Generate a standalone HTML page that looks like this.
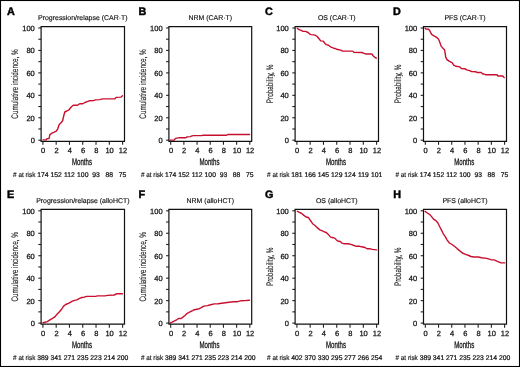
<!DOCTYPE html>
<html><head><meta charset="utf-8"><title>Figure</title>
<style>
html,body{margin:0;padding:0;background:#fff;}
body{width:520px;height:367px;overflow:hidden;}
svg{display:block;will-change:transform;}
text{font-family:"Liberation Sans",sans-serif;fill:#111;text-rendering:geometricPrecision;}
.lt{font-size:10.8px;font-weight:bold;fill:#000;stroke:#000;stroke-width:0.45px;}
.tt{font-size:6.95px;stroke:#111;stroke-width:0.15px;}
.tl{font-size:7.5px;stroke:#111;stroke-width:0.25px;}
.rk{font-size:6.8px;stroke:#111;stroke-width:0.22px;}
.rl{font-size:7.0px;stroke:#111;stroke-width:0.15px;}
.ax{font-size:9.6px;stroke:#111;stroke-width:0.3px;}
.yt{font-size:9.5px;stroke:#111;stroke-width:0.08px;}
.tk{stroke:#222;stroke-width:1.1;}
.bx{fill:none;stroke:#111;stroke-width:1.2;}
.cv{fill:none;stroke:#c8102e;stroke-width:1.4;stroke-linejoin:round;stroke-linecap:round;}
</style></head>
<body>
<svg width="520" height="367" viewBox="0 0 520 367">
<rect x="0.5" y="0.5" width="519" height="366" fill="#fff" stroke="#000" stroke-width="1.1"/>
<text x="7" y="14.6" class="lt">A</text>
<text x="82.8" y="19.9" class="tt" text-anchor="middle">Progression/relapse (CAR·T)</text>
<line x1="38.3" y1="140.2" x2="41.1" y2="140.2" class="tk"/>
<text x="34.8" y="143.1" class="tl" text-anchor="end">0</text>
<line x1="38.3" y1="128.98" x2="41.1" y2="128.98" class="tk"/>
<line x1="38.3" y1="117.76" x2="41.1" y2="117.76" class="tk"/>
<text x="34.8" y="120.66" class="tl" text-anchor="end">20</text>
<line x1="38.3" y1="106.54" x2="41.1" y2="106.54" class="tk"/>
<line x1="38.3" y1="95.32" x2="41.1" y2="95.32" class="tk"/>
<text x="34.8" y="98.22" class="tl" text-anchor="end">40</text>
<line x1="38.3" y1="84.1" x2="41.1" y2="84.1" class="tk"/>
<line x1="38.3" y1="72.88" x2="41.1" y2="72.88" class="tk"/>
<text x="34.8" y="75.78" class="tl" text-anchor="end">60</text>
<line x1="38.3" y1="61.66" x2="41.1" y2="61.66" class="tk"/>
<line x1="38.3" y1="50.44" x2="41.1" y2="50.44" class="tk"/>
<text x="34.8" y="53.34" class="tl" text-anchor="end">80</text>
<line x1="38.3" y1="39.22" x2="41.1" y2="39.22" class="tk"/>
<line x1="38.3" y1="28" x2="41.1" y2="28" class="tk"/>
<text x="34.8" y="30.9" class="tl" text-anchor="end">100</text>
<line x1="42.9" y1="141.3" x2="42.9" y2="144.8" class="tk"/>
<text x="43.2" y="152.8" class="tl" text-anchor="middle">0</text>
<text x="42.9" y="176.6" class="rk" text-anchor="middle">174</text>
<line x1="56.18" y1="141.3" x2="56.18" y2="144.8" class="tk"/>
<text x="56.48" y="152.8" class="tl" text-anchor="middle">2</text>
<text x="56.18" y="176.6" class="rk" text-anchor="middle">152</text>
<line x1="69.47" y1="141.3" x2="69.47" y2="144.8" class="tk"/>
<text x="69.77" y="152.8" class="tl" text-anchor="middle">4</text>
<text x="69.47" y="176.6" class="rk" text-anchor="middle">112</text>
<line x1="82.75" y1="141.3" x2="82.75" y2="144.8" class="tk"/>
<text x="83.05" y="152.8" class="tl" text-anchor="middle">6</text>
<text x="82.75" y="176.6" class="rk" text-anchor="middle">100</text>
<line x1="96.03" y1="141.3" x2="96.03" y2="144.8" class="tk"/>
<text x="96.33" y="152.8" class="tl" text-anchor="middle">8</text>
<text x="96.03" y="176.6" class="rk" text-anchor="middle">93</text>
<line x1="109.32" y1="141.3" x2="109.32" y2="144.8" class="tk"/>
<text x="109.62" y="152.8" class="tl" text-anchor="middle">10</text>
<text x="109.32" y="176.6" class="rk" text-anchor="middle">88</text>
<line x1="122.6" y1="141.3" x2="122.6" y2="144.8" class="tk"/>
<text x="122.9" y="152.8" class="tl" text-anchor="middle">12</text>
<text x="122.6" y="176.6" class="rk" text-anchor="middle">75</text>
<text x="35.4" y="176.6" class="rl" text-anchor="end" textLength="22.3" lengthAdjust="spacingAndGlyphs"># at risk</text>
<text x="82" y="165.3" class="ax" text-anchor="middle" textLength="20" lengthAdjust="spacingAndGlyphs">Months</text>
<text transform="translate(18.35,83.95) rotate(-90)" class="yt" text-anchor="middle" textLength="69.4" lengthAdjust="spacingAndGlyphs">Cumulative incidence, %</text>
<polyline class="cv" points="43.1,139.9 46.4,139.9 46.9,138.6 49,138.6 49.9,134.6 52,133.2 54.2,132.2 56.3,131.1 57.7,129 59.1,124.7 61.2,122.6 62.7,120.5 63.8,115.5 64.8,112 66.9,111 69,109.8 71.2,107 73.3,105.3 77.5,105.3 79.7,103.7 82.8,103.7 85,102.5 87.1,101.6 89.2,100.8 93.5,100.6 95.6,99.9 99.8,99.6 102.7,98.9 114.7,98.9 116.1,97.4 121.1,97.1 122.5,95.7"/>
<path class="bx" d="M41.1,26.6H124.5V141.3H41.1Z"/>
<text x="138.5" y="14.6" class="lt">B</text>
<text x="210.3" y="19.9" class="tt" text-anchor="middle">NRM (CAR·T)</text>
<line x1="166.1" y1="140.2" x2="168.9" y2="140.2" class="tk"/>
<text x="162.6" y="143.1" class="tl" text-anchor="end">0</text>
<line x1="166.1" y1="128.98" x2="168.9" y2="128.98" class="tk"/>
<line x1="166.1" y1="117.76" x2="168.9" y2="117.76" class="tk"/>
<text x="162.6" y="120.66" class="tl" text-anchor="end">20</text>
<line x1="166.1" y1="106.54" x2="168.9" y2="106.54" class="tk"/>
<line x1="166.1" y1="95.32" x2="168.9" y2="95.32" class="tk"/>
<text x="162.6" y="98.22" class="tl" text-anchor="end">40</text>
<line x1="166.1" y1="84.1" x2="168.9" y2="84.1" class="tk"/>
<line x1="166.1" y1="72.88" x2="168.9" y2="72.88" class="tk"/>
<text x="162.6" y="75.78" class="tl" text-anchor="end">60</text>
<line x1="166.1" y1="61.66" x2="168.9" y2="61.66" class="tk"/>
<line x1="166.1" y1="50.44" x2="168.9" y2="50.44" class="tk"/>
<text x="162.6" y="53.34" class="tl" text-anchor="end">80</text>
<line x1="166.1" y1="39.22" x2="168.9" y2="39.22" class="tk"/>
<line x1="166.1" y1="28" x2="168.9" y2="28" class="tk"/>
<text x="162.6" y="30.9" class="tl" text-anchor="end">100</text>
<line x1="170.7" y1="141.3" x2="170.7" y2="144.8" class="tk"/>
<text x="171" y="152.8" class="tl" text-anchor="middle">0</text>
<text x="170.7" y="176.6" class="rk" text-anchor="middle">174</text>
<line x1="183.88" y1="141.3" x2="183.88" y2="144.8" class="tk"/>
<text x="184.18" y="152.8" class="tl" text-anchor="middle">2</text>
<text x="183.88" y="176.6" class="rk" text-anchor="middle">152</text>
<line x1="197.07" y1="141.3" x2="197.07" y2="144.8" class="tk"/>
<text x="197.37" y="152.8" class="tl" text-anchor="middle">4</text>
<text x="197.07" y="176.6" class="rk" text-anchor="middle">112</text>
<line x1="210.25" y1="141.3" x2="210.25" y2="144.8" class="tk"/>
<text x="210.55" y="152.8" class="tl" text-anchor="middle">6</text>
<text x="210.25" y="176.6" class="rk" text-anchor="middle">100</text>
<line x1="223.43" y1="141.3" x2="223.43" y2="144.8" class="tk"/>
<text x="223.73" y="152.8" class="tl" text-anchor="middle">8</text>
<text x="223.43" y="176.6" class="rk" text-anchor="middle">93</text>
<line x1="236.62" y1="141.3" x2="236.62" y2="144.8" class="tk"/>
<text x="236.92" y="152.8" class="tl" text-anchor="middle">10</text>
<text x="236.62" y="176.6" class="rk" text-anchor="middle">88</text>
<line x1="249.8" y1="141.3" x2="249.8" y2="144.8" class="tk"/>
<text x="250.1" y="152.8" class="tl" text-anchor="middle">12</text>
<text x="249.8" y="176.6" class="rk" text-anchor="middle">75</text>
<text x="163.2" y="176.6" class="rl" text-anchor="end" textLength="22.3" lengthAdjust="spacingAndGlyphs"># at risk</text>
<text x="209.5" y="165.3" class="ax" text-anchor="middle" textLength="20" lengthAdjust="spacingAndGlyphs">Months</text>
<text transform="translate(146.15,83.95) rotate(-90)" class="yt" text-anchor="middle" textLength="69.4" lengthAdjust="spacingAndGlyphs">Cumulative incidence, %</text>
<polyline class="cv" points="169.9,140.1 174.2,140.1 175.5,138.4 178.1,137.9 179.8,137.7 185.9,137.7 187.2,136.9 190.2,136.6 192,135.9 193.7,135.6 201.5,135.6 203.2,135.3 226.6,135.3 227.7,134.5 249.5,134.5"/>
<path class="bx" d="M168.9,26.6H251.7V141.3H168.9Z"/>
<text x="264.9" y="14.6" class="lt">C</text>
<text x="336.8" y="19.9" class="tt" text-anchor="middle">OS (CAR·T)</text>
<line x1="292.3" y1="140.2" x2="295.1" y2="140.2" class="tk"/>
<text x="288.8" y="143.1" class="tl" text-anchor="end">0</text>
<line x1="292.3" y1="128.98" x2="295.1" y2="128.98" class="tk"/>
<line x1="292.3" y1="117.76" x2="295.1" y2="117.76" class="tk"/>
<text x="288.8" y="120.66" class="tl" text-anchor="end">20</text>
<line x1="292.3" y1="106.54" x2="295.1" y2="106.54" class="tk"/>
<line x1="292.3" y1="95.32" x2="295.1" y2="95.32" class="tk"/>
<text x="288.8" y="98.22" class="tl" text-anchor="end">40</text>
<line x1="292.3" y1="84.1" x2="295.1" y2="84.1" class="tk"/>
<line x1="292.3" y1="72.88" x2="295.1" y2="72.88" class="tk"/>
<text x="288.8" y="75.78" class="tl" text-anchor="end">60</text>
<line x1="292.3" y1="61.66" x2="295.1" y2="61.66" class="tk"/>
<line x1="292.3" y1="50.44" x2="295.1" y2="50.44" class="tk"/>
<text x="288.8" y="53.34" class="tl" text-anchor="end">80</text>
<line x1="292.3" y1="39.22" x2="295.1" y2="39.22" class="tk"/>
<line x1="292.3" y1="28" x2="295.1" y2="28" class="tk"/>
<text x="288.8" y="30.9" class="tl" text-anchor="end">100</text>
<line x1="296.9" y1="141.3" x2="296.9" y2="144.8" class="tk"/>
<text x="297.2" y="152.8" class="tl" text-anchor="middle">0</text>
<text x="296.9" y="176.6" class="rk" text-anchor="middle">181</text>
<line x1="310.18" y1="141.3" x2="310.18" y2="144.8" class="tk"/>
<text x="310.48" y="152.8" class="tl" text-anchor="middle">2</text>
<text x="310.18" y="176.6" class="rk" text-anchor="middle">166</text>
<line x1="323.47" y1="141.3" x2="323.47" y2="144.8" class="tk"/>
<text x="323.77" y="152.8" class="tl" text-anchor="middle">4</text>
<text x="323.47" y="176.6" class="rk" text-anchor="middle">145</text>
<line x1="336.75" y1="141.3" x2="336.75" y2="144.8" class="tk"/>
<text x="337.05" y="152.8" class="tl" text-anchor="middle">6</text>
<text x="336.75" y="176.6" class="rk" text-anchor="middle">129</text>
<line x1="350.03" y1="141.3" x2="350.03" y2="144.8" class="tk"/>
<text x="350.33" y="152.8" class="tl" text-anchor="middle">8</text>
<text x="350.03" y="176.6" class="rk" text-anchor="middle">124</text>
<line x1="363.32" y1="141.3" x2="363.32" y2="144.8" class="tk"/>
<text x="363.62" y="152.8" class="tl" text-anchor="middle">10</text>
<text x="363.32" y="176.6" class="rk" text-anchor="middle">119</text>
<line x1="376.6" y1="141.3" x2="376.6" y2="144.8" class="tk"/>
<text x="376.9" y="152.8" class="tl" text-anchor="middle">12</text>
<text x="376.6" y="176.6" class="rk" text-anchor="middle">101</text>
<text x="289.4" y="176.6" class="rl" text-anchor="end" textLength="22.3" lengthAdjust="spacingAndGlyphs"># at risk</text>
<text x="336" y="165.3" class="ax" text-anchor="middle" textLength="20" lengthAdjust="spacingAndGlyphs">Months</text>
<text transform="translate(272.6,83.95) rotate(-90)" class="yt" text-anchor="middle" textLength="38.6" lengthAdjust="spacingAndGlyphs">Probability, %</text>
<polyline class="cv" points="297.3,28.2 298.6,29.4 300.4,30.1 301.7,30.7 303,31.4 305.5,31.4 308.1,32.5 309.9,34.2 311.2,34.6 315.1,35.1 317.2,36.5 319,38.7 320.7,40.9 323.3,41.1 325,43.5 326.3,44.6 328.5,45.2 331.1,47.2 333.7,48.2 335.4,48.5 336.7,49.3 338.9,49.7 340.6,50.2 342.8,51.1 352.7,51.1 353.9,52.4 362.2,52.5 364,53.4 366.1,54 371.8,54 373.1,55.7 374.8,57.3 376.3,58.2"/>
<path class="bx" d="M295.1,26.6H378.5V141.3H295.1Z"/>
<text x="393" y="14.6" class="lt">D</text>
<text x="465" y="19.9" class="tt" text-anchor="middle">PFS (CAR·T)</text>
<line x1="420.7" y1="140.2" x2="423.5" y2="140.2" class="tk"/>
<text x="417.2" y="143.1" class="tl" text-anchor="end">0</text>
<line x1="420.7" y1="128.98" x2="423.5" y2="128.98" class="tk"/>
<line x1="420.7" y1="117.76" x2="423.5" y2="117.76" class="tk"/>
<text x="417.2" y="120.66" class="tl" text-anchor="end">20</text>
<line x1="420.7" y1="106.54" x2="423.5" y2="106.54" class="tk"/>
<line x1="420.7" y1="95.32" x2="423.5" y2="95.32" class="tk"/>
<text x="417.2" y="98.22" class="tl" text-anchor="end">40</text>
<line x1="420.7" y1="84.1" x2="423.5" y2="84.1" class="tk"/>
<line x1="420.7" y1="72.88" x2="423.5" y2="72.88" class="tk"/>
<text x="417.2" y="75.78" class="tl" text-anchor="end">60</text>
<line x1="420.7" y1="61.66" x2="423.5" y2="61.66" class="tk"/>
<line x1="420.7" y1="50.44" x2="423.5" y2="50.44" class="tk"/>
<text x="417.2" y="53.34" class="tl" text-anchor="end">80</text>
<line x1="420.7" y1="39.22" x2="423.5" y2="39.22" class="tk"/>
<line x1="420.7" y1="28" x2="423.5" y2="28" class="tk"/>
<text x="417.2" y="30.9" class="tl" text-anchor="end">100</text>
<line x1="425.3" y1="141.3" x2="425.3" y2="144.8" class="tk"/>
<text x="425.6" y="152.8" class="tl" text-anchor="middle">0</text>
<text x="425.3" y="176.6" class="rk" text-anchor="middle">174</text>
<line x1="438.52" y1="141.3" x2="438.52" y2="144.8" class="tk"/>
<text x="438.82" y="152.8" class="tl" text-anchor="middle">2</text>
<text x="438.52" y="176.6" class="rk" text-anchor="middle">152</text>
<line x1="451.73" y1="141.3" x2="451.73" y2="144.8" class="tk"/>
<text x="452.03" y="152.8" class="tl" text-anchor="middle">4</text>
<text x="451.73" y="176.6" class="rk" text-anchor="middle">112</text>
<line x1="464.95" y1="141.3" x2="464.95" y2="144.8" class="tk"/>
<text x="465.25" y="152.8" class="tl" text-anchor="middle">6</text>
<text x="464.95" y="176.6" class="rk" text-anchor="middle">100</text>
<line x1="478.17" y1="141.3" x2="478.17" y2="144.8" class="tk"/>
<text x="478.47" y="152.8" class="tl" text-anchor="middle">8</text>
<text x="478.17" y="176.6" class="rk" text-anchor="middle">93</text>
<line x1="491.38" y1="141.3" x2="491.38" y2="144.8" class="tk"/>
<text x="491.68" y="152.8" class="tl" text-anchor="middle">10</text>
<text x="491.38" y="176.6" class="rk" text-anchor="middle">88</text>
<line x1="504.6" y1="141.3" x2="504.6" y2="144.8" class="tk"/>
<text x="504.9" y="152.8" class="tl" text-anchor="middle">12</text>
<text x="504.6" y="176.6" class="rk" text-anchor="middle">75</text>
<text x="417.8" y="176.6" class="rl" text-anchor="end" textLength="22.3" lengthAdjust="spacingAndGlyphs"># at risk</text>
<text x="464.2" y="165.3" class="ax" text-anchor="middle" textLength="20" lengthAdjust="spacingAndGlyphs">Months</text>
<text transform="translate(401,83.95) rotate(-90)" class="yt" text-anchor="middle" textLength="38.6" lengthAdjust="spacingAndGlyphs">Probability, %</text>
<polyline class="cv" points="425.1,28.3 426.1,29.1 428.6,29.3 429.8,30.7 431.6,34.4 433.5,35.6 435.9,36.9 438.4,39 439.6,41.8 441.1,46.1 442.7,47.9 444.5,49.7 445.1,52.8 445.7,57.1 447,59.6 449.4,61.4 452.1,62.6 453.7,65.1 456.2,66.3 459.8,66.9 461.4,68.5 464.8,68.7 466.7,69.9 469.6,70.7 471.5,71.5 475.9,71.8 477.3,72.5 481.2,72.5 482.6,73.75 485.5,74.7 497,74.7 498,76 502.8,76 504.2,77.6"/>
<path class="bx" d="M423.5,26.6H506.5V141.3H423.5Z"/>
<text x="7" y="197.6" class="lt">E</text>
<text x="82.8" y="203.1" class="tt" text-anchor="middle">Progression/relapse (alloHCT)</text>
<line x1="38.3" y1="323.1" x2="41.1" y2="323.1" class="tk"/>
<text x="34.8" y="326" class="tl" text-anchor="end">0</text>
<line x1="38.3" y1="311.87" x2="41.1" y2="311.87" class="tk"/>
<line x1="38.3" y1="300.64" x2="41.1" y2="300.64" class="tk"/>
<text x="34.8" y="303.54" class="tl" text-anchor="end">20</text>
<line x1="38.3" y1="289.41" x2="41.1" y2="289.41" class="tk"/>
<line x1="38.3" y1="278.18" x2="41.1" y2="278.18" class="tk"/>
<text x="34.8" y="281.08" class="tl" text-anchor="end">40</text>
<line x1="38.3" y1="266.95" x2="41.1" y2="266.95" class="tk"/>
<line x1="38.3" y1="255.72" x2="41.1" y2="255.72" class="tk"/>
<text x="34.8" y="258.62" class="tl" text-anchor="end">60</text>
<line x1="38.3" y1="244.49" x2="41.1" y2="244.49" class="tk"/>
<line x1="38.3" y1="233.26" x2="41.1" y2="233.26" class="tk"/>
<text x="34.8" y="236.16" class="tl" text-anchor="end">80</text>
<line x1="38.3" y1="222.03" x2="41.1" y2="222.03" class="tk"/>
<line x1="38.3" y1="210.8" x2="41.1" y2="210.8" class="tk"/>
<text x="34.8" y="213.7" class="tl" text-anchor="end">100</text>
<line x1="42.9" y1="324.2" x2="42.9" y2="327.7" class="tk"/>
<text x="43.2" y="335.7" class="tl" text-anchor="middle">0</text>
<text x="42.9" y="359.5" class="rk" text-anchor="middle">389</text>
<line x1="56.18" y1="324.2" x2="56.18" y2="327.7" class="tk"/>
<text x="56.48" y="335.7" class="tl" text-anchor="middle">2</text>
<text x="56.18" y="359.5" class="rk" text-anchor="middle">341</text>
<line x1="69.47" y1="324.2" x2="69.47" y2="327.7" class="tk"/>
<text x="69.77" y="335.7" class="tl" text-anchor="middle">4</text>
<text x="69.47" y="359.5" class="rk" text-anchor="middle">271</text>
<line x1="82.75" y1="324.2" x2="82.75" y2="327.7" class="tk"/>
<text x="83.05" y="335.7" class="tl" text-anchor="middle">6</text>
<text x="82.75" y="359.5" class="rk" text-anchor="middle">235</text>
<line x1="96.03" y1="324.2" x2="96.03" y2="327.7" class="tk"/>
<text x="96.33" y="335.7" class="tl" text-anchor="middle">8</text>
<text x="96.03" y="359.5" class="rk" text-anchor="middle">223</text>
<line x1="109.32" y1="324.2" x2="109.32" y2="327.7" class="tk"/>
<text x="109.62" y="335.7" class="tl" text-anchor="middle">10</text>
<text x="109.32" y="359.5" class="rk" text-anchor="middle">214</text>
<line x1="122.6" y1="324.2" x2="122.6" y2="327.7" class="tk"/>
<text x="122.9" y="335.7" class="tl" text-anchor="middle">12</text>
<text x="122.6" y="359.5" class="rk" text-anchor="middle">200</text>
<text x="35.4" y="359.5" class="rl" text-anchor="end" textLength="22.3" lengthAdjust="spacingAndGlyphs"># at risk</text>
<text x="82" y="348.2" class="ax" text-anchor="middle" textLength="20" lengthAdjust="spacingAndGlyphs">Months</text>
<text transform="translate(18.35,266.8) rotate(-90)" class="yt" text-anchor="middle" textLength="69.4" lengthAdjust="spacingAndGlyphs">Cumulative incidence, %</text>
<polyline class="cv" points="43.1,322.7 45,322.2 47.3,321.6 49.5,320.2 51.7,318.8 54.5,317.2 56.7,314.6 59.5,311.8 61.8,309 63.4,306.4 65.7,304.5 69,303.1 72.4,301.2 74.6,300.4 76.8,299.9 79.6,298.4 81.9,297.5 83.7,297.4 86.5,296.4 95.7,296.4 97.5,295.9 104.9,295.9 107.7,295.4 114.2,295 116.9,293.7 122.5,293.7"/>
<path class="bx" d="M41.1,209.4H124.5V324.2H41.1Z"/>
<text x="138.5" y="197.6" class="lt">F</text>
<text x="210.3" y="203.1" class="tt" text-anchor="middle">NRM (alloHCT)</text>
<line x1="166.1" y1="323.1" x2="168.9" y2="323.1" class="tk"/>
<text x="162.6" y="326" class="tl" text-anchor="end">0</text>
<line x1="166.1" y1="311.87" x2="168.9" y2="311.87" class="tk"/>
<line x1="166.1" y1="300.64" x2="168.9" y2="300.64" class="tk"/>
<text x="162.6" y="303.54" class="tl" text-anchor="end">20</text>
<line x1="166.1" y1="289.41" x2="168.9" y2="289.41" class="tk"/>
<line x1="166.1" y1="278.18" x2="168.9" y2="278.18" class="tk"/>
<text x="162.6" y="281.08" class="tl" text-anchor="end">40</text>
<line x1="166.1" y1="266.95" x2="168.9" y2="266.95" class="tk"/>
<line x1="166.1" y1="255.72" x2="168.9" y2="255.72" class="tk"/>
<text x="162.6" y="258.62" class="tl" text-anchor="end">60</text>
<line x1="166.1" y1="244.49" x2="168.9" y2="244.49" class="tk"/>
<line x1="166.1" y1="233.26" x2="168.9" y2="233.26" class="tk"/>
<text x="162.6" y="236.16" class="tl" text-anchor="end">80</text>
<line x1="166.1" y1="222.03" x2="168.9" y2="222.03" class="tk"/>
<line x1="166.1" y1="210.8" x2="168.9" y2="210.8" class="tk"/>
<text x="162.6" y="213.7" class="tl" text-anchor="end">100</text>
<line x1="170.7" y1="324.2" x2="170.7" y2="327.7" class="tk"/>
<text x="171" y="335.7" class="tl" text-anchor="middle">0</text>
<text x="170.7" y="359.5" class="rk" text-anchor="middle">389</text>
<line x1="183.88" y1="324.2" x2="183.88" y2="327.7" class="tk"/>
<text x="184.18" y="335.7" class="tl" text-anchor="middle">2</text>
<text x="183.88" y="359.5" class="rk" text-anchor="middle">341</text>
<line x1="197.07" y1="324.2" x2="197.07" y2="327.7" class="tk"/>
<text x="197.37" y="335.7" class="tl" text-anchor="middle">4</text>
<text x="197.07" y="359.5" class="rk" text-anchor="middle">271</text>
<line x1="210.25" y1="324.2" x2="210.25" y2="327.7" class="tk"/>
<text x="210.55" y="335.7" class="tl" text-anchor="middle">6</text>
<text x="210.25" y="359.5" class="rk" text-anchor="middle">235</text>
<line x1="223.43" y1="324.2" x2="223.43" y2="327.7" class="tk"/>
<text x="223.73" y="335.7" class="tl" text-anchor="middle">8</text>
<text x="223.43" y="359.5" class="rk" text-anchor="middle">223</text>
<line x1="236.62" y1="324.2" x2="236.62" y2="327.7" class="tk"/>
<text x="236.92" y="335.7" class="tl" text-anchor="middle">10</text>
<text x="236.62" y="359.5" class="rk" text-anchor="middle">214</text>
<line x1="249.8" y1="324.2" x2="249.8" y2="327.7" class="tk"/>
<text x="250.1" y="335.7" class="tl" text-anchor="middle">12</text>
<text x="249.8" y="359.5" class="rk" text-anchor="middle">200</text>
<text x="163.2" y="359.5" class="rl" text-anchor="end" textLength="22.3" lengthAdjust="spacingAndGlyphs"># at risk</text>
<text x="209.5" y="348.2" class="ax" text-anchor="middle" textLength="20" lengthAdjust="spacingAndGlyphs">Months</text>
<text transform="translate(146.15,266.8) rotate(-90)" class="yt" text-anchor="middle" textLength="69.4" lengthAdjust="spacingAndGlyphs">Cumulative incidence, %</text>
<polyline class="cv" points="170,323.1 172.1,322.1 174.6,320.8 176.6,319.8 178.6,318.5 181.1,318.5 182.6,317.4 184.7,315.7 186.7,313.7 188.7,312.7 190.7,311.5 192.7,310.7 194.3,309.7 196.8,309.2 199.3,308.7 201.3,307.7 203.8,306.1 207.4,305.6 209.7,305 214.3,303.9 218,303.7 225.4,302.7 229.1,302.2 233.7,301.7 237.4,301.7 240.6,300.8 244.8,300.6 249.4,300.3"/>
<path class="bx" d="M168.9,209.4H251.7V324.2H168.9Z"/>
<text x="264.9" y="197.6" class="lt">G</text>
<text x="336.8" y="203.1" class="tt" text-anchor="middle">OS (alloHCT)</text>
<line x1="292.3" y1="323.1" x2="295.1" y2="323.1" class="tk"/>
<text x="288.8" y="326" class="tl" text-anchor="end">0</text>
<line x1="292.3" y1="311.87" x2="295.1" y2="311.87" class="tk"/>
<line x1="292.3" y1="300.64" x2="295.1" y2="300.64" class="tk"/>
<text x="288.8" y="303.54" class="tl" text-anchor="end">20</text>
<line x1="292.3" y1="289.41" x2="295.1" y2="289.41" class="tk"/>
<line x1="292.3" y1="278.18" x2="295.1" y2="278.18" class="tk"/>
<text x="288.8" y="281.08" class="tl" text-anchor="end">40</text>
<line x1="292.3" y1="266.95" x2="295.1" y2="266.95" class="tk"/>
<line x1="292.3" y1="255.72" x2="295.1" y2="255.72" class="tk"/>
<text x="288.8" y="258.62" class="tl" text-anchor="end">60</text>
<line x1="292.3" y1="244.49" x2="295.1" y2="244.49" class="tk"/>
<line x1="292.3" y1="233.26" x2="295.1" y2="233.26" class="tk"/>
<text x="288.8" y="236.16" class="tl" text-anchor="end">80</text>
<line x1="292.3" y1="222.03" x2="295.1" y2="222.03" class="tk"/>
<line x1="292.3" y1="210.8" x2="295.1" y2="210.8" class="tk"/>
<text x="288.8" y="213.7" class="tl" text-anchor="end">100</text>
<line x1="296.9" y1="324.2" x2="296.9" y2="327.7" class="tk"/>
<text x="297.2" y="335.7" class="tl" text-anchor="middle">0</text>
<text x="296.9" y="359.5" class="rk" text-anchor="middle">402</text>
<line x1="310.18" y1="324.2" x2="310.18" y2="327.7" class="tk"/>
<text x="310.48" y="335.7" class="tl" text-anchor="middle">2</text>
<text x="310.18" y="359.5" class="rk" text-anchor="middle">370</text>
<line x1="323.47" y1="324.2" x2="323.47" y2="327.7" class="tk"/>
<text x="323.77" y="335.7" class="tl" text-anchor="middle">4</text>
<text x="323.47" y="359.5" class="rk" text-anchor="middle">330</text>
<line x1="336.75" y1="324.2" x2="336.75" y2="327.7" class="tk"/>
<text x="337.05" y="335.7" class="tl" text-anchor="middle">6</text>
<text x="336.75" y="359.5" class="rk" text-anchor="middle">295</text>
<line x1="350.03" y1="324.2" x2="350.03" y2="327.7" class="tk"/>
<text x="350.33" y="335.7" class="tl" text-anchor="middle">8</text>
<text x="350.03" y="359.5" class="rk" text-anchor="middle">277</text>
<line x1="363.32" y1="324.2" x2="363.32" y2="327.7" class="tk"/>
<text x="363.62" y="335.7" class="tl" text-anchor="middle">10</text>
<text x="363.32" y="359.5" class="rk" text-anchor="middle">266</text>
<line x1="376.6" y1="324.2" x2="376.6" y2="327.7" class="tk"/>
<text x="376.9" y="335.7" class="tl" text-anchor="middle">12</text>
<text x="376.6" y="359.5" class="rk" text-anchor="middle">254</text>
<text x="289.4" y="359.5" class="rl" text-anchor="end" textLength="22.3" lengthAdjust="spacingAndGlyphs"># at risk</text>
<text x="336" y="348.2" class="ax" text-anchor="middle" textLength="20" lengthAdjust="spacingAndGlyphs">Months</text>
<text transform="translate(272.6,266.8) rotate(-90)" class="yt" text-anchor="middle" textLength="38.6" lengthAdjust="spacingAndGlyphs">Probability, %</text>
<polyline class="cv" points="297.4,211.3 299.5,212.4 301.7,213.5 303.9,215.4 306.1,217 308.3,217.5 310.4,220.3 312.6,223.7 315.3,225.7 317.5,227.9 320.2,230.1 322.4,230.8 324.6,232 326.2,232.5 328.4,234.6 330.6,237.1 333.3,237.7 335,238.4 336.8,240.4 338.5,241.3 340.3,241.5 342.1,243.2 343.8,243.7 348.3,243.8 350.9,244.4 354,245.5 356.7,246.3 359.8,246.3 361.5,246.8 365.1,247.5 366.9,248.8 370.4,248.8 372.2,249.4 376.6,249.9"/>
<path class="bx" d="M295.1,209.4H378.5V324.2H295.1Z"/>
<text x="393.3" y="197.6" class="lt">H</text>
<text x="465" y="203.1" class="tt" text-anchor="middle">PFS (alloHCT)</text>
<line x1="420.7" y1="323.1" x2="423.5" y2="323.1" class="tk"/>
<text x="417.2" y="326" class="tl" text-anchor="end">0</text>
<line x1="420.7" y1="311.87" x2="423.5" y2="311.87" class="tk"/>
<line x1="420.7" y1="300.64" x2="423.5" y2="300.64" class="tk"/>
<text x="417.2" y="303.54" class="tl" text-anchor="end">20</text>
<line x1="420.7" y1="289.41" x2="423.5" y2="289.41" class="tk"/>
<line x1="420.7" y1="278.18" x2="423.5" y2="278.18" class="tk"/>
<text x="417.2" y="281.08" class="tl" text-anchor="end">40</text>
<line x1="420.7" y1="266.95" x2="423.5" y2="266.95" class="tk"/>
<line x1="420.7" y1="255.72" x2="423.5" y2="255.72" class="tk"/>
<text x="417.2" y="258.62" class="tl" text-anchor="end">60</text>
<line x1="420.7" y1="244.49" x2="423.5" y2="244.49" class="tk"/>
<line x1="420.7" y1="233.26" x2="423.5" y2="233.26" class="tk"/>
<text x="417.2" y="236.16" class="tl" text-anchor="end">80</text>
<line x1="420.7" y1="222.03" x2="423.5" y2="222.03" class="tk"/>
<line x1="420.7" y1="210.8" x2="423.5" y2="210.8" class="tk"/>
<text x="417.2" y="213.7" class="tl" text-anchor="end">100</text>
<line x1="425.3" y1="324.2" x2="425.3" y2="327.7" class="tk"/>
<text x="425.6" y="335.7" class="tl" text-anchor="middle">0</text>
<text x="425.3" y="359.5" class="rk" text-anchor="middle">389</text>
<line x1="438.52" y1="324.2" x2="438.52" y2="327.7" class="tk"/>
<text x="438.82" y="335.7" class="tl" text-anchor="middle">2</text>
<text x="438.52" y="359.5" class="rk" text-anchor="middle">341</text>
<line x1="451.73" y1="324.2" x2="451.73" y2="327.7" class="tk"/>
<text x="452.03" y="335.7" class="tl" text-anchor="middle">4</text>
<text x="451.73" y="359.5" class="rk" text-anchor="middle">271</text>
<line x1="464.95" y1="324.2" x2="464.95" y2="327.7" class="tk"/>
<text x="465.25" y="335.7" class="tl" text-anchor="middle">6</text>
<text x="464.95" y="359.5" class="rk" text-anchor="middle">235</text>
<line x1="478.17" y1="324.2" x2="478.17" y2="327.7" class="tk"/>
<text x="478.47" y="335.7" class="tl" text-anchor="middle">8</text>
<text x="478.17" y="359.5" class="rk" text-anchor="middle">223</text>
<line x1="491.38" y1="324.2" x2="491.38" y2="327.7" class="tk"/>
<text x="491.68" y="335.7" class="tl" text-anchor="middle">10</text>
<text x="491.38" y="359.5" class="rk" text-anchor="middle">214</text>
<line x1="504.6" y1="324.2" x2="504.6" y2="327.7" class="tk"/>
<text x="504.9" y="335.7" class="tl" text-anchor="middle">12</text>
<text x="504.6" y="359.5" class="rk" text-anchor="middle">200</text>
<text x="417.8" y="359.5" class="rl" text-anchor="end" textLength="22.3" lengthAdjust="spacingAndGlyphs"># at risk</text>
<text x="464.2" y="348.2" class="ax" text-anchor="middle" textLength="20" lengthAdjust="spacingAndGlyphs">Months</text>
<text transform="translate(401,266.8) rotate(-90)" class="yt" text-anchor="middle" textLength="38.6" lengthAdjust="spacingAndGlyphs">Probability, %</text>
<polyline class="cv" points="425.1,211.4 427.4,213 429.8,214.6 431.6,216.6 433.5,219.1 435.9,220.7 437.8,222.8 439.6,226.5 441.5,230.1 443.3,233.8 445.1,236.3 447,239.9 449.4,243 452.1,244.5 455,246.7 457.1,248.6 459.8,250.9 462.4,253 465.6,254.4 468.8,255.5 470.9,256.5 474,257 478.3,257 481.5,257.8 486.7,258.4 491,259.7 494.2,259.9 497.3,261.3 500.5,262.7 504.7,262.9"/>
<path class="bx" d="M423.5,209.4H506.5V324.2H423.5Z"/>
</svg>
</body></html>
